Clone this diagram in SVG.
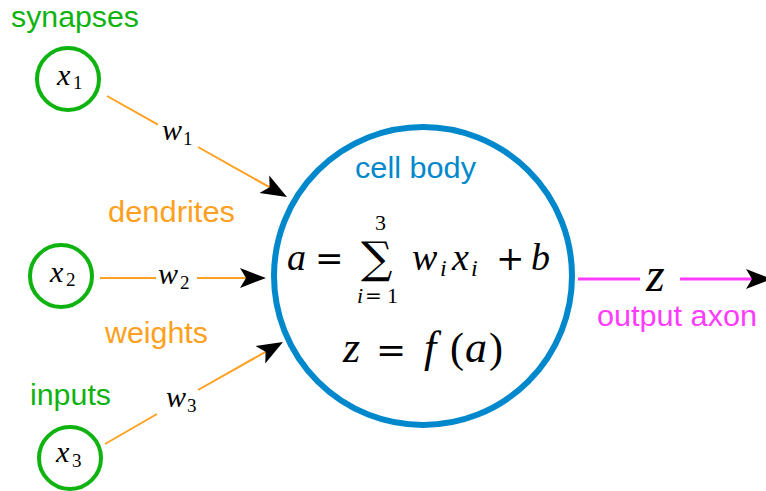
<svg xmlns="http://www.w3.org/2000/svg" width="766" height="491" viewBox="0 0 766 491">
<style>
.lbl{font-family:"Liberation Sans",Arial,sans-serif;font-size:29px}
.g{fill:#0fb30f}.o{fill:#ffa020}.b{fill:#0088cc}.p{fill:#ff3cff}
.m{font-family:"Liberation Serif","Times New Roman",serif;font-style:italic;fill:#000}
.r{font-family:"DejaVu Serif",serif;font-style:normal;fill:#000}
.sub{font-family:"Liberation Serif","Times New Roman",serif;font-style:normal;fill:#000}
.in{fill:#fff;stroke:#0fb30f;stroke-width:4}
.dend{fill:none;stroke:#ffa020;stroke-width:2;marker-end:url(#ah)}
.axon{fill:none;stroke:#ff3cff;stroke-width:3;marker-end:url(#ah)}
</style>
<defs>
<marker id="ah" markerUnits="userSpaceOnUse" markerWidth="30" markerHeight="22" viewBox="0 0 30 22" refX="12" refY="11" orient="auto">
<path d="M0,1 L26,11 L0,21 L6,11 Z" fill="#000"/>
</marker>
</defs>
<rect width="766" height="491" fill="#fff"/>

<g id="connectors">
<path class="dend" d="M107,96 L158,124.6 M198,147 L274.8,190.2"/>
<path class="dend" d="M100,278 L156,278 M197,278 L252,278"/>
<path class="dend" d="M105,444 L157,414 M198,390 L270.8,348.9"/>
<path class="axon" d="M578,279 L640,279 M680,279 L758,279"/>
<text class="m" x="162" y="140" font-size="30">w</text><text class="sub" x="183" y="145" font-size="19">1</text>
<text class="m" x="158" y="284" font-size="30">w</text><text class="sub" x="180" y="289" font-size="19">2</text>
<text class="m" x="166" y="407" font-size="30">w</text><text class="sub" x="187" y="412" font-size="19">3</text>
<text class="m" x="646" y="291" font-size="48">z</text>
</g>

<g id="x1">
<circle class="in" cx="68" cy="79" r="31"/>
<text class="m" x="57" y="85" font-size="30">x</text><text class="sub" x="73" y="89" font-size="19">1</text>
</g>
<g id="x2">
<circle class="in" cx="61" cy="276" r="31"/>
<text class="m" x="50" y="282" font-size="30">x</text><text class="sub" x="66" y="286" font-size="19">2</text>
</g>
<g id="x3">
<circle class="in" cx="70" cy="458" r="31"/>
<text class="m" x="56" y="462" font-size="30">x</text><text class="sub" x="72" y="467" font-size="19">3</text>
</g>

<g id="cell">
<circle cx="423" cy="276" r="149" fill="#fff" stroke="#0088cc" stroke-width="6"/>
<text class="lbl b" x="355" y="178" font-size="30" textLength="121" lengthAdjust="spacingAndGlyphs">cell body</text>
<text class="m" x="287" y="270" font-size="38">a</text>
<text class="r" x="315" y="270" font-size="34">=</text>
<text class="r" x="361" y="273" font-size="44">∑</text>
<text class="sub" x="375" y="230" font-size="22">3</text>
<text class="m" x="357" y="303" font-size="22">i</text>
<text class="r" x="365" y="303" font-size="20">=</text>
<text class="sub" x="387" y="303" font-size="22">1</text>
<text class="m" x="412" y="270" font-size="38">w</text>
<text class="m" x="440" y="276" font-size="24">i</text>
<text class="m" x="452" y="270" font-size="38">x</text>
<text class="m" x="471" y="276" font-size="24">i</text>
<text class="r" x="496" y="270" font-size="34">+</text>
<text class="m" x="531" y="270" font-size="38">b</text>
<text class="m" x="343" y="362" font-size="44">z</text>
<text class="r" x="376" y="362" font-size="36">=</text>
<text class="m" x="424" y="362" font-size="44">f</text>
<text class="sub" x="450" y="362" font-size="42">(</text>
<text class="m" x="465" y="362" font-size="44">a</text>
<text class="sub" x="489" y="362" font-size="42">)</text>
</g>

<g id="labels">
<text class="lbl g" x="11" y="27" font-size="30" textLength="128" lengthAdjust="spacingAndGlyphs">synapses</text>
<text class="lbl o" x="108" y="222" font-size="30" textLength="127" lengthAdjust="spacingAndGlyphs">dendrites</text>
<text class="lbl o" x="105" y="343" font-size="30" textLength="103" lengthAdjust="spacingAndGlyphs">weights</text>
<text class="lbl g" x="30" y="405" font-size="30" textLength="81" lengthAdjust="spacingAndGlyphs">inputs</text>
<text class="lbl p" x="597" y="326" font-size="30" textLength="160" lengthAdjust="spacingAndGlyphs">output axon</text>
</g>
</svg>
